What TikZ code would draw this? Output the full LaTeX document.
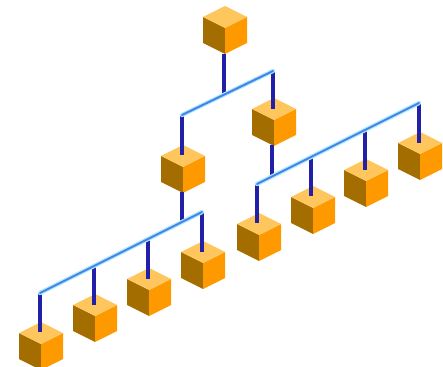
\documentclass[tikz,border=0pt]{standalone}
\definecolor{cubetop}{HTML}{FFC65E}
\definecolor{cubeleft}{HTML}{A36D00}
\definecolor{cuberight}{HTML}{FF9900}
\definecolor{stemdark}{HTML}{2020A8}
\definecolor{stemhalo}{HTML}{9AA6F8}
\definecolor{barcore}{HTML}{4A80E8}
\definecolor{barhalo}{HTML}{A8ECFF}
\tikzset{
  x=0.75pt,y=-0.75pt,
  pics/isocube/.style={code={
    \fill[cubeleft] (0,0) -- (-22,-11) -- (-22,15) -- (0,26) -- cycle;
    \fill[cuberight] (0,0) -- (22,-11) -- (22,15) -- (0,26) -- cycle;
    \fill[cubetop] (0,0) -- (-22,-11) -- (0,-22) -- (22,-11) -- cycle;
  }},
  stemhalostyle/.style={draw=stemhalo,line width=3.6pt},
  stemcore/.style={draw=stemdark,line width=2.5pt},
  barhalostyle/.style={draw=barhalo,line width=3.2pt,line cap=round},
  barcorestyle/.style={draw=barcore,line width=1.5pt,line cap=round},
}
\newcommand{\linkstem}[2]{%
  \draw[stemhalostyle] (#1) -- (#2);
  \draw[stemcore] (#1) -- (#2);}
\newcommand{\linkbar}[2]{%
  \draw[barhalostyle] (#1) -- (#2);
  \draw[barcorestyle] (#1) -- (#2);}
\begin{document}
\begin{tikzpicture}
\useasboundingbox (0,0) rectangle (443,367);
% cubes
\foreach \n/\x/\y in {root/225/28, up/274/120, mid/183/167,
   la/41/344, lb/95/316, lc/149/290, ld/203/263,
   ra/259/235, rb/313/208, rc/366/181, rd/420/154}{
  \coordinate (\n) at (\x,\y);
  \pic at (\n) {isocube};
}
% junction points
\coordinate (rootout) at (224,54);
\coordinate (topj) at (224,93);
\coordinate (topl) at (182,115);
\coordinate (topr) at (273,71);
\coordinate (upin) at (273,109);
\coordinate (midin) at (182,155);
\coordinate (midout) at (182,192);
\coordinate (lj) at (182,222);
\coordinate (lstart) at (40,293);
\coordinate (lend) at (202,212);
\coordinate (lb1) at (94,266);
\coordinate (lc1) at (148,239);
\coordinate (lain) at (40,332);
\coordinate (lbin) at (94,305);
\coordinate (lcin) at (148,279);
\coordinate (ldin) at (202,252);
\coordinate (upout) at (272,145);
\coordinate (rj) at (272,177);
\coordinate (rstart) at (257,184);
\coordinate (rend) at (419,103);
\coordinate (rb1) at (311,157);
\coordinate (rc1) at (365,130);
\coordinate (rain) at (257,223);
\coordinate (rbin) at (311,196);
\coordinate (rcin) at (365,170);
\coordinate (rdin) at (419,143);
% stems
\linkstem{rootout}{topj}
\linkstem{topr}{upin}
\linkstem{topl}{midin}
\linkstem{midout}{lj}
\linkstem{lstart}{lain}
\linkstem{lb1}{lbin}
\linkstem{lc1}{lcin}
\linkstem{lend}{ldin}
\linkstem{upout}{rj}
\linkstem{rstart}{rain}
\linkstem{rb1}{rbin}
\linkstem{rc1}{rcin}
\linkstem{rend}{rdin}
% bars
\linkbar{topl}{topr}
\linkbar{lstart}{lend}
\linkbar{rstart}{rend}
\end{tikzpicture}
\end{document}
